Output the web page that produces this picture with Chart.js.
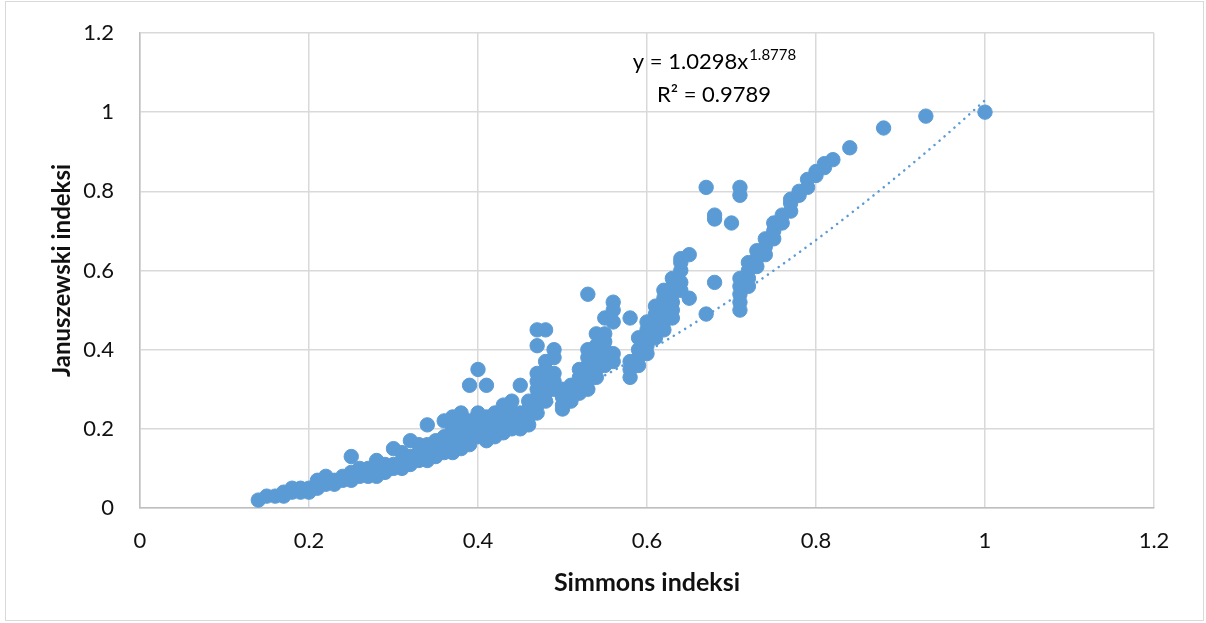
<!DOCTYPE html>
<html>
<head>
<meta charset="utf-8">
<script src="https://cdn.jsdelivr.net/npm/chart.js@4.4.1/dist/chart.umd.min.js"></script>
<style>
  body { margin: 0; background: #fff; }
  .c-frame { position: absolute; left: 5px; top: 1px; width: 1197px; height: 618px; border: 1px solid #d9d9d9; }
  canvas { position: absolute; left: 0; top: 0; }
</style>
</head>
<body>
<div class="c-frame"></div>
<canvas id="chart" width="1206" height="623"></canvas>
<script>
const simmons = [
  0.14, 0.15, 0.16, 0.17, 0.17, 0.18, 0.18, 0.19, 0.19, 0.20, 0.20,
  0.21, 0.21, 0.21, 0.22, 0.22, 0.22, 0.23, 0.23, 0.24, 0.24,
  0.25, 0.25, 0.25, 0.26, 0.26, 0.27, 0.27, 0.28, 0.28, 0.28, 0.29, 0.29,
  0.30, 0.30, 0.30, 0.31, 0.31, 0.31, 0.32, 0.32, 0.32, 0.33, 0.33, 0.33,
  0.34, 0.34, 0.34, 0.34, 0.35, 0.35, 0.35, 0.36, 0.36, 0.36, 0.36,
  0.37, 0.37, 0.37, 0.37, 0.37, 0.38, 0.38, 0.38, 0.38, 0.38,
  0.39, 0.39, 0.39, 0.39, 0.39, 0.40, 0.40, 0.40, 0.40, 0.40,
  0.41, 0.41, 0.41, 0.41, 0.41, 0.42, 0.42, 0.42, 0.42,
  0.43, 0.43, 0.43, 0.43, 0.44, 0.44, 0.44, 0.44,
  0.45, 0.45, 0.45, 0.45, 0.46, 0.46, 0.46, 0.46,
  0.47, 0.47, 0.47, 0.47, 0.47, 0.47, 0.47, 0.47,
  0.48, 0.48, 0.48, 0.48, 0.48, 0.48, 0.48, 0.49, 0.49, 0.49, 0.49, 0.49,
  0.50, 0.50, 0.50, 0.50, 0.51, 0.51, 0.51, 0.52, 0.52, 0.52, 0.52,
  0.53, 0.53, 0.53, 0.53, 0.53, 0.53, 0.53,
  0.54, 0.54, 0.54, 0.54, 0.54, 0.54, 0.55, 0.55, 0.55, 0.55, 0.55, 0.55,
  0.56, 0.56, 0.56, 0.56, 0.56, 0.58, 0.58, 0.58, 0.58,
  0.59, 0.59, 0.59, 0.59, 0.60, 0.60, 0.60, 0.60, 0.60,
  0.61, 0.61, 0.61, 0.61, 0.61, 0.62, 0.62, 0.62, 0.62, 0.62, 0.62,
  0.63, 0.63, 0.63, 0.63, 0.63, 0.63, 0.64, 0.64, 0.64, 0.64, 0.64,
  0.65, 0.65, 0.67, 0.67, 0.68, 0.68, 0.68, 0.70,
  0.71, 0.71, 0.71, 0.71, 0.71, 0.71, 0.71,
  0.72, 0.72, 0.72, 0.72, 0.73, 0.73, 0.73,
  0.74, 0.74, 0.74, 0.75, 0.75, 0.75, 0.76, 0.76,
  0.77, 0.77, 0.77, 0.78, 0.78, 0.79, 0.79,
  0.80, 0.80, 0.81, 0.81, 0.82, 0.84, 0.88, 0.93, 1.00
];
const januszewski = [
  0.02, 0.03, 0.03, 0.03, 0.04, 0.04, 0.05, 0.04, 0.05, 0.04, 0.05,
  0.05, 0.06, 0.07, 0.06, 0.07, 0.08, 0.06, 0.07, 0.07, 0.08,
  0.07, 0.09, 0.13, 0.08, 0.10, 0.08, 0.10, 0.08, 0.10, 0.12, 0.09, 0.11,
  0.10, 0.11, 0.15, 0.10, 0.12, 0.14, 0.11, 0.13, 0.17, 0.12, 0.14, 0.16,
  0.12, 0.14, 0.16, 0.21, 0.13, 0.15, 0.17, 0.14, 0.16, 0.18, 0.22,
  0.14, 0.16, 0.18, 0.20, 0.23, 0.15, 0.17, 0.19, 0.21, 0.24,
  0.16, 0.18, 0.20, 0.22, 0.31, 0.18, 0.20, 0.22, 0.24, 0.35,
  0.17, 0.19, 0.21, 0.23, 0.31, 0.18, 0.20, 0.22, 0.24,
  0.19, 0.21, 0.23, 0.26, 0.20, 0.22, 0.24, 0.27,
  0.20, 0.22, 0.24, 0.31, 0.21, 0.23, 0.25, 0.27,
  0.24, 0.26, 0.28, 0.30, 0.32, 0.34, 0.41, 0.45,
  0.27, 0.29, 0.31, 0.33, 0.35, 0.37, 0.45, 0.30, 0.32, 0.34, 0.38, 0.40,
  0.25, 0.26, 0.28, 0.30, 0.27, 0.29, 0.31, 0.29, 0.31, 0.33, 0.35,
  0.30, 0.32, 0.34, 0.36, 0.38, 0.40, 0.54,
  0.33, 0.35, 0.37, 0.39, 0.41, 0.44, 0.36, 0.38, 0.40, 0.42, 0.44, 0.48,
  0.37, 0.39, 0.47, 0.50, 0.52, 0.33, 0.35, 0.37, 0.48,
  0.36, 0.38, 0.40, 0.43, 0.39, 0.41, 0.43, 0.45, 0.47,
  0.43, 0.45, 0.47, 0.49, 0.51, 0.45, 0.47, 0.49, 0.51, 0.53, 0.55,
  0.48, 0.50, 0.52, 0.54, 0.56, 0.58, 0.55, 0.57, 0.60, 0.62, 0.63,
  0.53, 0.64, 0.49, 0.81, 0.57, 0.73, 0.74, 0.72,
  0.50, 0.52, 0.54, 0.56, 0.58, 0.79, 0.81,
  0.56, 0.58, 0.60, 0.62, 0.61, 0.63, 0.65,
  0.64, 0.66, 0.68, 0.68, 0.70, 0.72, 0.72, 0.74,
  0.75, 0.77, 0.78, 0.79, 0.80, 0.81, 0.83,
  0.84, 0.85, 0.86, 0.87, 0.88, 0.91, 0.96, 0.99, 1.00
];

const trendX = [0.14, 0.20, 0.25, 0.30, 0.35, 0.40, 0.45, 0.50, 0.55, 0.60, 0.65, 0.70, 0.75, 0.80, 0.85, 0.90, 0.95, 1.00];
const trendY = [0.026, 0.050, 0.076, 0.107, 0.143, 0.184, 0.230, 0.280, 0.335, 0.395, 0.459, 0.527, 0.600, 0.677, 0.759, 0.845, 0.935, 1.030];

// Assen
const xTicks = [0, 0.2, 0.4, 0.6, 0.8, 1, 1.2];
const yTicks = [0, 0.2, 0.4, 0.6, 0.8, 1, 1.2];
const equationText = ["y = 1.0298x", "1.8778", "R² = 0.9789"];

const BLUE = "#5B9BD5";
const FONT = "Lato";

// Vergelijking van de trendlijn tekenen
const equationPlugin = {
  id: "equation",
  afterDatasetsDraw(chart) {
    const ctx = chart.ctx;
    ctx.save();
    ctx.fillStyle = "#000";
    ctx.textBaseline = "alphabetic";
    ctx.font = `22px ${FONT}`;
    const mainW = ctx.measureText(equationText[0]).width;
    ctx.font = `15px ${FONT}`;
    const supW = ctx.measureText(equationText[1]).width;
    const cx = 714;
    let x = cx - (mainW + supW) / 2;
    ctx.font = `22px ${FONT}`;
    ctx.fillText(equationText[0], x, 69);
    ctx.font = `15px ${FONT}`;
    ctx.fillText(equationText[1], x + mainW + 1, 60);
    ctx.font = `22px ${FONT}`;
    ctx.textAlign = "center";
    ctx.fillText(equationText[2], cx, 102);
    ctx.restore();
  },
};

const makeChart = () => {
  const points = simmons.map((x, i) => ({ x: x, y: januszewski[i] }));
  const trend = trendX.map((x, i) => ({ x: x, y: trendY[i] }));

  new Chart(document.getElementById("chart"), {
    type: "scatter",
    data: {
      datasets: [
        {
          data: points,
          backgroundColor: BLUE,
          borderColor: BLUE,
          borderWidth: 1,
          pointRadius: 7.2,
          order: 1,
        },
        {
          type: "line",
          data: trend,
          showLine: true,
          borderColor: BLUE,
          borderWidth: 2.5,
          borderDash: [0.1, 6.5],
          borderCapStyle: "round",
          pointRadius: 0,
          cubicInterpolationMode: "monotone",
          fill: false,
          order: 2,
        },
      ],
    },
    options: {
      responsive: false,
      animation: false,
      devicePixelRatio: 1,
      layout: { padding: { left: 0, top: 33, right: 52, bottom: 0 } },
      plugins: { legend: { display: false }, tooltip: { enabled: false } },
      scales: {
        x: {
          type: "linear",
          min: 0,
          max: 1.2,
          afterFit: (scale) => {
            scale.height = 115;
            scale.paddingLeft = 0;
            scale.paddingRight = 0;
          },
          afterBuildTicks: (scale) => { scale.ticks = xTicks.map((v) => ({ value: v })); },
          grid: { color: "#d9d9d9", lineWidth: 1.5, drawTicks: false },
          border: { color: "#bfbfbf", width: 1.5 },
          ticks: {
            padding: 20,
            color: "#111",
            font: { family: FONT, size: 22 },
            callback: (v) => String(v),
          },
          title: {
            display: true,
            text: "Simmons indeksi",
            color: "#111",
            font: { family: FONT, size: 25, weight: "bold" },
            padding: { top: 0, bottom: 25 },
          },
        },
        y: {
          type: "linear",
          min: 0,
          max: 1.2,
          afterFit: (scale) => {
            scale.width = 140;
            scale.paddingTop = 0;
            scale.paddingBottom = 0;
          },
          afterBuildTicks: (scale) => { scale.ticks = yTicks.map((v) => ({ value: v })); },
          grid: { color: "#d9d9d9", lineWidth: 1.5, drawTicks: false },
          border: { color: "#bfbfbf", width: 1.5 },
          ticks: {
            padding: 26,
            color: "#111",
            font: { family: FONT, size: 22 },
            callback: (v) => String(v),
          },
          title: {
            display: true,
            text: "Januszewski indeksi",
            color: "#111",
            font: { family: FONT, size: 24, weight: "bold" },
            padding: { top: 48, bottom: 0 },
          },
        },
      },
    },
    plugins: [equationPlugin],
  });
};

document.addEventListener("DOMContentLoaded", function () {
  makeChart();
});
</script>
</body>
</html>
